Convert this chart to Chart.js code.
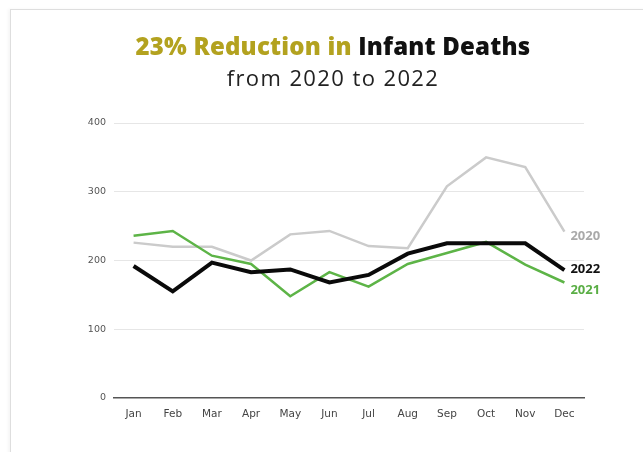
<!DOCTYPE html>
<html>
<head>
<meta charset="utf-8">
<script src="https://cdn.jsdelivr.net/npm/chart.js@4/dist/chart.umd.min.js"></script>
<style>
  html, body { margin: 0; padding: 0; background: #fff; }
  body { width: 643px; height: 452px; position: relative; overflow: hidden; }
  .card {
    position: absolute; left: 10px; top: 9px; width: 660px; height: 470px;
    border-top: 1px solid #dedede; border-left: 1px solid #dedede;
    box-shadow: -2px 0 3px rgba(0,0,0,0.04);
  }
  .title {
    position: absolute; left: 0; width: 666px; text-align: center;
    font-family: "Open Sans", sans-serif; white-space: nowrap;
  }
  #t1 { top: 29px; font-size: 24px; font-weight: 800; color: #111; letter-spacing: 0.2px; }
  #t1 span { color: #b3a21f; }
  #t2 { top: 62px; font-size: 22px; font-weight: 400; color: #222; letter-spacing: 1.4px; }
  #chart { position: absolute; left: 0; top: 0; }
</style>
</head>
<body>
<div class="card"></div>
<canvas id="chart" width="643" height="452"></canvas>
<div class="title" id="t1"><span>23% Reduction in</span> Infant Deaths</div>
<div class="title" id="t2">from 2020 to 2022</div>
<script>
// Monthly infant deaths by year

const months = ["Jan", "Feb", "Mar", "Apr", "May", "Jun", "Jul", "Aug", "Sep", "Oct", "Nov", "Dec"];
const deaths2020 = [226, 220, 220, 200, 238, 243, 221, 218, 308, 350, 336, 242];
const deaths2021 = [236, 243, 207, 195, 148, 183, 162, 195, 211, 227, 194, 168];
const deaths2022 = [192, 155, 197, 183, 187, 168, 179, 210, 225, 225, 225, 186];
const yTicks = [0, 100, 200, 300, 400];

// year label drawn next to the last point of each line
const endLabels = {
    id: "endLabels",
    afterDatasetsDraw(chart) {
        const ctx = chart.ctx;
        ctx.save();
        ctx.font = "bold 13px 'Open Sans', sans-serif";
        ctx.textBaseline = "middle";
        chart.data.datasets.forEach((ds, i) => {
            const meta = chart.getDatasetMeta(i);
            const pt = meta.data[meta.data.length - 1];
            ctx.fillStyle = ds.labelColor;
            ctx.fillText(ds.label, pt.x + 6, pt.y + ds.labelShift);
        });
        ctx.restore();
    }
};

const dataLine = {
    labels: months,
    datasets: [{
        label: "2020",
        data: deaths2020,
        borderColor: "#cbcbcb",
        labelColor: "#a9a9a9",
        labelShift: 5,
        borderWidth: 2.5,
        order: 2,
    }, {
        label: "2021",
        data: deaths2021,
        borderColor: "#5db447",
        labelColor: "#5aae45",
        labelShift: 8,
        borderWidth: 2.5,
        order: 1,
    }, {
        label: "2022",
        data: deaths2022,
        borderColor: "#0a0a0a",
        labelColor: "#111",
        labelShift: -1,
        borderWidth: 4,
        order: 0,
    }],
};

const configLine = {
    type: "line",
    data: dataLine,
    plugins: [endLabels],
    options: {
        responsive: false,
        animation: false,
        events: [],
        layout: { padding: { left: 78, right: 59, top: 123, bottom: 20 } },
        elements: { point: { radius: 0 }, line: { tension: 0 } },
        plugins: { legend: { display: false }, tooltip: { enabled: false } },
        scales: {
            x: {
                offset: true,
                grid: { display: false, drawTicks: false },
                border: { display: true, color: "#555", width: 1.5 },
                ticks: {
                    padding: 10,
                    color: "#444",
                    font: { family: "'DejaVu Sans', sans-serif", size: 10.5 },
                },
                afterFit(s) { s.height = 34; },
            },
            y: {
                min: 0,
                max: 400,
                afterBuildTicks(s) { s.ticks = yTicks.map(v => ({ value: v })); },
                grid: {
                    drawTicks: false,
                    color: c => (c.tick.value === 0 ? "rgba(0,0,0,0)" : "#e6e6e6"),
                    lineWidth: 1,
                },
                border: { display: false },
                ticks: {
                    padding: 8,
                    color: "#555",
                    font: { family: "'DejaVu Sans', sans-serif", size: 9.5 },
                },
                afterFit(s) { s.width = 36; },
            },
        },
    },
};

var chartLine = new Chart(document.getElementById("chart"), configLine);
</script>
</body>
</html>
